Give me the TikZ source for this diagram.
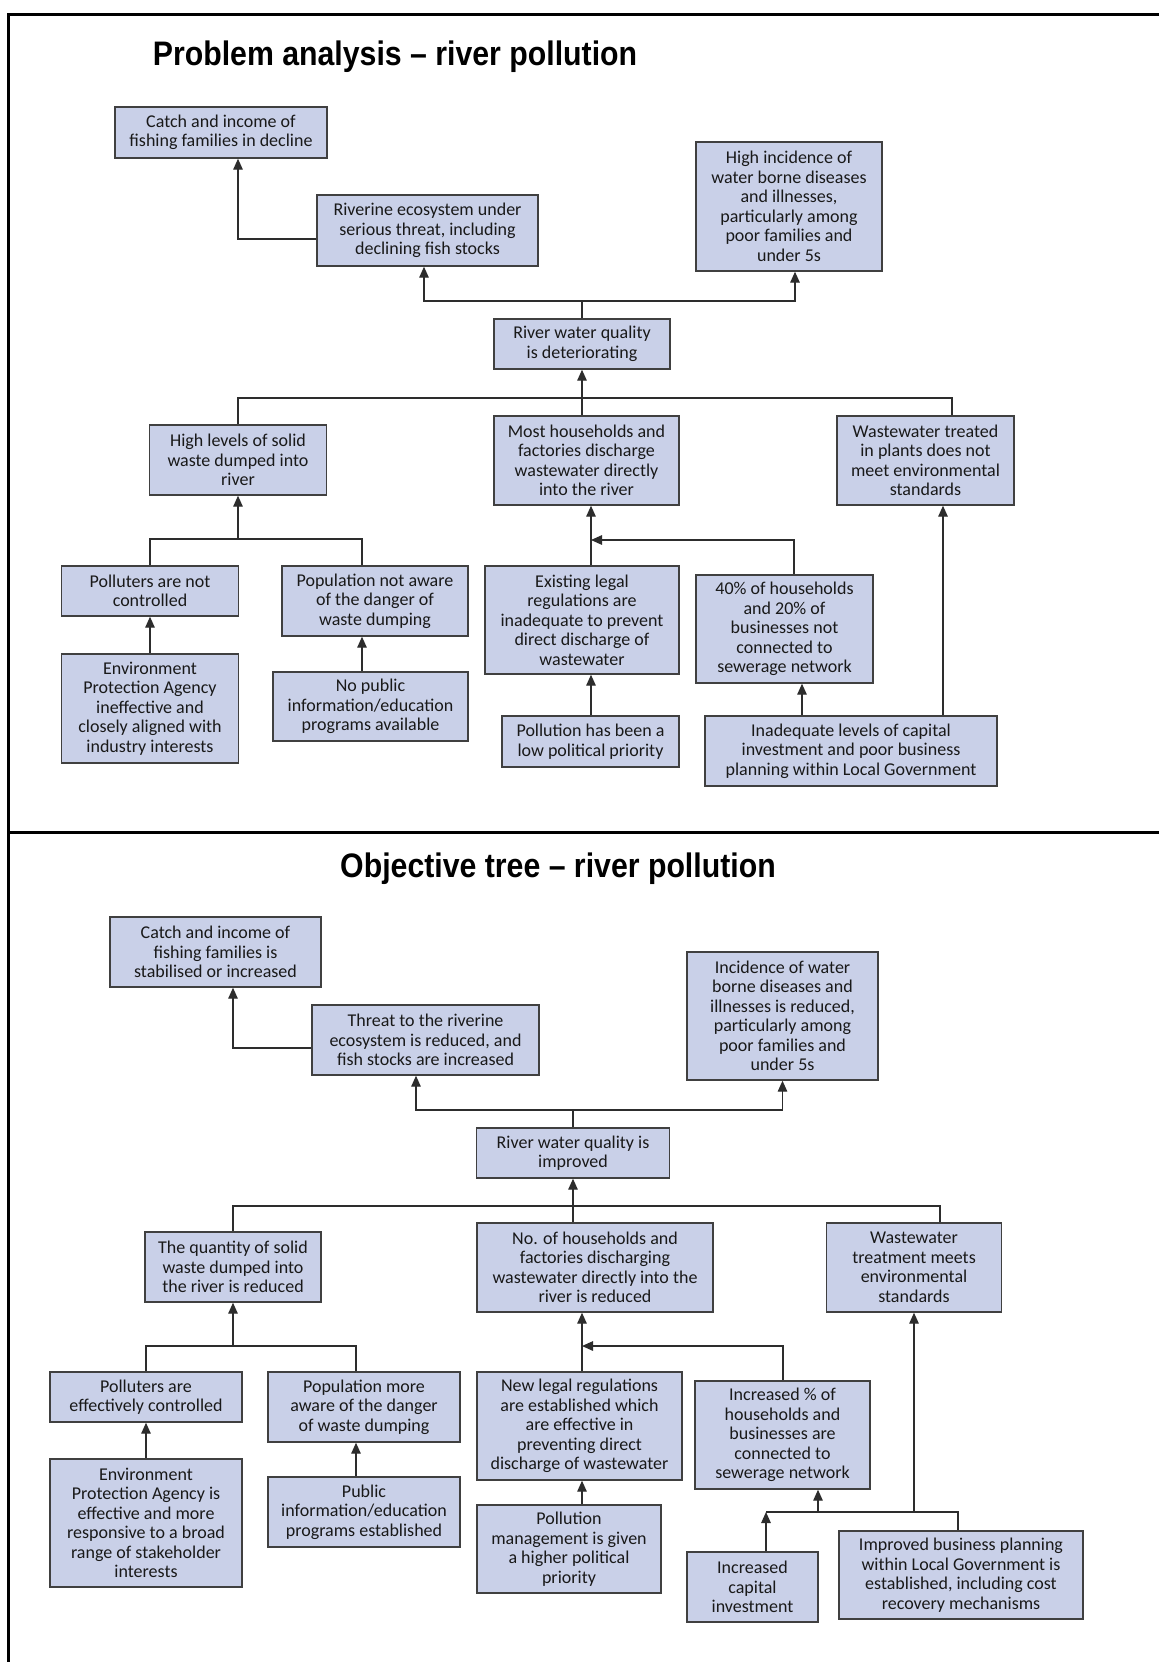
\documentclass[tikz,border=0pt]{standalone}
\usepackage{fontspec}
\setmainfont{Carlito}
\newfontfamily\headfont[FakeStretch=0.89]{Liberation Sans}
\usetikzlibrary{arrows.meta}
\definecolor{boxfill}{RGB}{201,208,232}
\definecolor{boxline}{RGB}{64,64,64}
\definecolor{linkgray}{RGB}{45,45,45}

\begin{document}
\begin{tikzpicture}[x=1pt,y=-1pt,
    box/.style={draw=boxline,fill=boxfill,line width=1.4pt,align=center,inner sep=1pt,
      font=\fontsize{18}{19.5}\selectfont,text=black!90},
    link/.style={draw=linkgray,line width=1.4pt},
    arr/.style={link,-{Triangle[length=11pt,width=9.5pt]}},
    frame/.style={line width=3pt},
    heading/.style={font=\headfont\bfseries\fontsize{34}{34}\selectfont,anchor=base}]
   \useasboundingbox (0,0) rectangle (1159,1662);
   \fill[white] (0,0) rectangle (1159,1662);

   \draw[frame] (1159,15) -- (8,15) -- (8,1662);
   \draw[frame] (8,832) -- (1159,832);

   % problem analysis
   \node[heading] (headP) at (395,66) {Problem analysis \textendash{} river pollution};

   \node[box,minimum width=212,minimum height=51] (catchP) at (221,132.5) {Catch and income of\\fishing families in decline};
   \node[box,minimum width=221,minimum height=71] (riverP) at (427.5,230.5) {Riverine ecosystem under\\serious threat, including\\declining fish stocks};
   \node[box,minimum width=186,minimum height=129] (healthP) at (789,206.5) {High incidence of\\water borne diseases\\and illnesses,\\particularly among\\poor families and\\under 5s};
   \node[box,minimum width=176,minimum height=50] (qualityP) at (582,344) {River water quality\\is deteriorating};
   \node[box,minimum width=177,minimum height=70] (wasteP) at (238,460) {High levels of solid\\waste dumped into\\river};
   \node[box,minimum width=185,minimum height=89] (dischargeP) at (586.5,460.5) {Most households and\\factories discharge\\wastewater directly\\into the river};
   \node[box,minimum width=177,minimum height=89] (treatP) at (925.5,460.5) {Wastewater treated\\in plants does not\\meet environmental\\standards};
   \node[box,minimum width=177,minimum height=50] (pollutersP) at (150,591) {Polluters are not\\controlled};
   \node[box,minimum width=186,minimum height=70] (awareP) at (375,601) {Population not aware\\of the danger of\\waste dumping};
   \node[box,minimum width=177,minimum height=109] (epaP) at (150,708.5) {Environment\\Protection Agency\\ineffective and\\closely aligned with\\industry interests};
   \node[box,minimum width=195,minimum height=69] (infoP) at (370.5,706.5) {No public\\information/education\\programs available};
   \node[box,minimum width=194,minimum height=108] (lawP) at (582,620) {Existing legal\\regulations are\\inadequate to prevent\\direct discharge of\\wastewater};
   \node[box,minimum width=177,minimum height=51] (priorityP) at (590.5,741.5) {Pollution has been a\\low political priority};
   \node[box,minimum width=177,minimum height=108] (sewerP) at (784.5,629) {40\% of households\\and 20\% of\\businesses not\\connected to\\sewerage network};
   \node[box,minimum width=292,minimum height=70] (capitalP) at (851,751) {Inadequate levels of capital\\investment and poor business\\planning within Local Government};

   \coordinate (upP) at (582,301);
   \coordinate (midP) at (582,398);
   \coordinate (solidP) at (238,539);
   \coordinate (joinP) at (591,540);

   \draw[arr] ([yshift=-8.5]riverP.west) -| ([xshift=17]catchP.south);
   \draw[link] (qualityP.north) -- (upP);
   \draw[arr] (upP) -| ([xshift=-3.5]riverP.south);
   \draw[arr] (upP) -| ([xshift=6]healthP.south);
   \draw[arr] (midP) -- (qualityP.south);
   \draw[link] (midP) -| (wasteP.north);
   \draw[link] (midP) -- (midP |- dischargeP.north);
   \draw[link] (midP) -| ([xshift=26.5]treatP.north);
   \draw[arr] (solidP) -- (wasteP.south);
   \draw[link] (solidP) -| (pollutersP.north);
   \draw[link] (solidP) -| ([xshift=-13]awareP.north);
   \draw[arr] (epaP.north) -- (pollutersP.south);
   \draw[arr] ([xshift=-8.5]infoP.north) -- ([xshift=-13]awareP.south);
   \draw[arr] ([xshift=9]lawP.north) -- ([xshift=4.5]dischargeP.south);
   \draw[arr] ([xshift=9.5]sewerP.north) |- (joinP);
   \draw[arr] ([xshift=0.5]priorityP.north) -- ([xshift=9]lawP.south);
   \draw[arr] ([xshift=-49]capitalP.north) -- ([xshift=17.5]sewerP.south);
   \draw[arr] ([xshift=92]capitalP.north) -- ([xshift=17.5]treatP.south);

   % objective tree
   \node[heading] (headO) at (558,877) {Objective tree \textendash{} river pollution};

   \node[box,minimum width=211,minimum height=70] (catchO) at (215.5,952) {Catch and income of\\fishing families is\\stabilised or increased};
   \node[box,minimum width=227,minimum height=70] (threatO) at (425.5,1040) {Threat to the riverine\\ecosystem is reduced, and\\fish stocks are increased};
   \node[box,minimum width=191,minimum height=128] (healthO) at (782.5,1016) {Incidence of water\\borne diseases and\\illnesses is reduced,\\particularly among\\poor families and\\under 5s};
   \node[box,minimum width=193,minimum height=50] (qualityO) at (573,1153) {River water quality is\\improved};
   \node[box,minimum width=176,minimum height=70] (wasteO) at (233,1267) {The quantity of solid\\waste dumped into\\the river is reduced};
   \node[box,minimum width=236,minimum height=89] (dischargeO) at (595,1267.5) {No. of households and\\factories discharging\\wastewater directly into the\\river is reduced};
   \node[box,minimum width=175,minimum height=89] (treatO) at (914,1267.5) {Wastewater\\treatment meets\\environmental\\standards};
   \node[box,minimum width=192,minimum height=50] (pollutersO) at (146,1397) {Polluters are\\effectively controlled};
   \node[box,minimum width=192,minimum height=70] (awareO) at (364,1407) {Population more\\aware of the danger\\of waste dumping};
   \node[box,minimum width=192,minimum height=128] (epaO) at (146,1523) {Environment\\Protection Agency is\\effective and more\\responsive to a broad\\range of stakeholder\\interests};
   \node[box,minimum width=192,minimum height=70] (infoO) at (364,1512) {Public\\information/education\\programs established};
   \node[box,minimum width=205,minimum height=108] (lawO) at (579.5,1426) {New legal regulations\\are established which\\are effective in\\preventing direct\\discharge of wastewater};
   \node[box,minimum width=184,minimum height=88] (priorityO) at (569,1549) {Pollution\\management is given\\a higher political\\priority};
   \node[box,minimum width=175,minimum height=108] (sewerO) at (782.5,1435) {Increased \% of\\households and\\businesses are\\connected to\\sewerage network};
   \node[box,minimum width=131,minimum height=70] (investO) at (752.5,1587) {Increased\\capital\\investment};
   \node[box,minimum width=244,minimum height=88] (planO) at (961,1575) {Improved business planning\\within Local Government is\\established, including cost\\recovery mechanisms};

   \coordinate (upO) at (573,1110);
   \coordinate (midO) at (573,1206);
   \coordinate (solidO) at (233,1346);
   \coordinate (joinO) at (582,1346);
   \coordinate (fundO) at (766,1512);
   \coordinate (fundA) at (818,1512);
   \coordinate (fundB) at (914,1512);
   \coordinate (fundC) at (958,1512);

   \draw[arr] ([yshift=-8]threatO.west) -| ([xshift=17.5]catchO.south);
   \draw[link] (qualityO.north) -- (upO);
   \draw[arr] (upO) -| ([xshift=-9.5]threatO.south);
   \draw[arr] (upO) -| (healthO.south);
   \draw[arr] (midO) -- (qualityO.south);
   \draw[link] (midO) -| (wasteO.north);
   \draw[link] (midO) -- (midO |- dischargeO.north);
   \draw[link] (midO) -| ([xshift=26]treatO.north);
   \draw[arr] (solidO) -- (wasteO.south);
   \draw[link] (solidO) -| (pollutersO.north);
   \draw[link] (solidO) -| ([xshift=-8]awareO.north);
   \draw[arr] (epaO.north) -- (pollutersO.south);
   \draw[arr] ([xshift=-8]infoO.north) -- ([xshift=-8]awareO.south);
   \draw[arr] ([xshift=2.5]lawO.north) -- ([xshift=-13]dischargeO.south);
   \draw[arr] ([xshift=0.5]sewerO.north) |- (joinO);
   \draw[arr] ([xshift=13]priorityO.north) -- ([xshift=2.5]lawO.south);
   \draw[arr] ([xshift=13.5]investO.north) -- (fundO);
   \draw[link] (fundO) -- (fundC) -- ([xshift=-3]planO.north);
   \draw[arr] (fundA) -- ([xshift=35.5]sewerO.south);
   \draw[arr] (fundB) -- (treatO.south);
\end{tikzpicture}
\end{document}
